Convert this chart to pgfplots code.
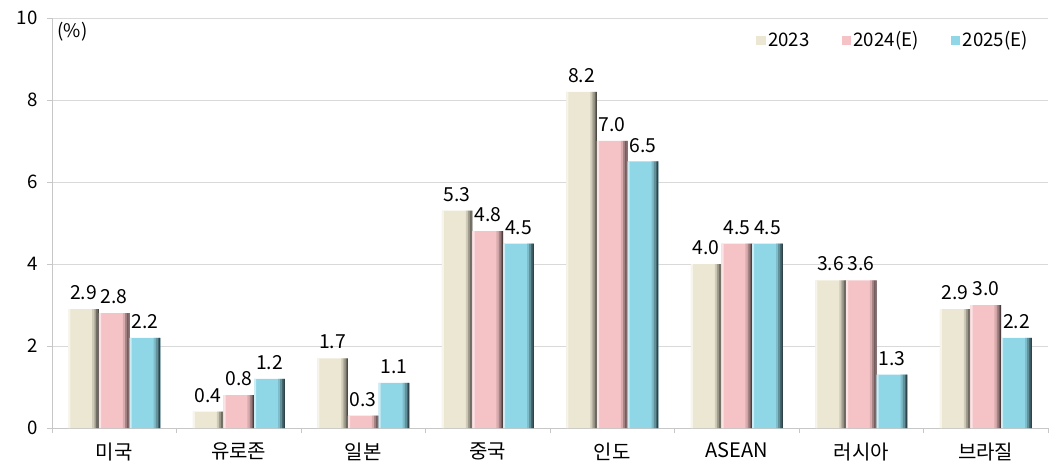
\documentclass[border=0pt]{standalone}
\usepackage{pgfplots}
\pgfplotsset{compat=1.18}
\usepackage{fontspec}
\setmainfont{Noto Sans CJK KR}

\definecolor{cA}{HTML}{ECE7D2}
\definecolor{cB}{HTML}{F5C3C6}
\definecolor{cC}{HTML}{8FD6E6}
\definecolor{gridc}{HTML}{D9D9D9}

\pgfplotstableread{
x a b c
0 2.9 2.8 2.2
1 0.4 0.8 1.2
2 1.7 0.3 1.1
3 5.3 4.8 4.5
4 8.2 7.0 6.5
5 4.0 4.5 4.5
6 3.6 3.6 1.3
7 2.9 3.0 2.2
}\growth

% one series: flat face, light left rim and a darkening right edge
\newcommand{\bevelbar}[3]{% column, colour, centre shift (pt)
  \addplot[draw=none, fill=#2, bar width=23pt, bar shift={(#3)*1pt},
    nodes near coords] table[x=x,y=#1]{\growth};
  \addplot[draw=none, fill=#2!45!white, bar width=1.6pt, bar shift={(#3-10.7)*1pt},
    forget plot] table[x=x,y=#1]{\growth};
  \addplot[draw=none, fill=#2!88!black, bar width=1.6pt, bar shift={(#3+7.3)*1pt},
    forget plot] table[x=x,y=#1]{\growth};
  \addplot[draw=none, fill=#2!68!black, bar width=1.4pt, bar shift={(#3+8.8)*1pt},
    forget plot] table[x=x,y=#1]{\growth};
  \addplot[draw=none, fill=#2!48!black, bar width=1.3pt, bar shift={(#3+10.15)*1pt},
    forget plot] table[x=x,y=#1]{\growth};
  \addplot[draw=none, fill=#2!32!black, bar width=0.8pt, bar shift={(#3+11.1)*1pt},
    forget plot] table[x=x,y=#1]{\growth};
}

\begin{document}
\fontsize{14pt}{16pt}\selectfont
\begin{tikzpicture}
\useasboundingbox (-39pt,-24.75pt) rectangle (756pt,321pt);
\begin{axis}[
  at={(0,0)}, anchor=south west,
  scale only axis,
  width=747pt, height=307.5pt,
  ybar=0pt, bar width=23pt,
  xmin=-0.5, xmax=7.5,
  ymin=0, ymax=10,
  ytick={0,2,...,10},
  xtick={-0.5,0.5,...,7.5},
  x tick label as interval,
  xticklabels={미국,유로존,일본,중국,인도,ASEAN,러시아,브라질},
  axis lines*=left,
  axis line style={gridc!80!gray},
  tick style={gridc!80!gray},
  tick align=outside,
  major tick length=4pt,
  ymajorgrids,
  grid style={gridc},
  every tick label/.append style={font=\fontsize{14pt}{16pt}\selectfont},
  /pgf/number format/assume math mode=true,
  x tick label style={yshift=-2pt, font=\fontsize{15pt}{17pt}\selectfont},
  y tick label style={xshift=-2pt},
  nodes near coords style={font=\fontsize{14.5pt}{16pt}\selectfont, yshift=2pt,
    /pgf/number format/.cd, fixed, fixed zerofill, precision=1, assume math mode=true},
  legend style={at={(1,1)}, anchor=north east, xshift=-10pt, yshift=-6pt,
    draw=none, fill=none, font=\fontsize{14pt}{16pt}\selectfont,
    legend columns=3,
    /tikz/every even column/.append style={column sep=22pt}},
  legend image code/.code={\path[#1] (0pt,-3.5pt) rectangle (7pt,3.5pt);},
]
\bevelbar{a}{cA}{-23}
\bevelbar{b}{cB}{0}
\bevelbar{c}{cC}{23}
\legend{2023,2024(E),2025(E)}
\node[anchor=north west, inner sep=0pt] at (axis cs:-0.5,10) [xshift=4pt, yshift=-3pt] {(\%)};
\end{axis}
\end{tikzpicture}
\end{document}
